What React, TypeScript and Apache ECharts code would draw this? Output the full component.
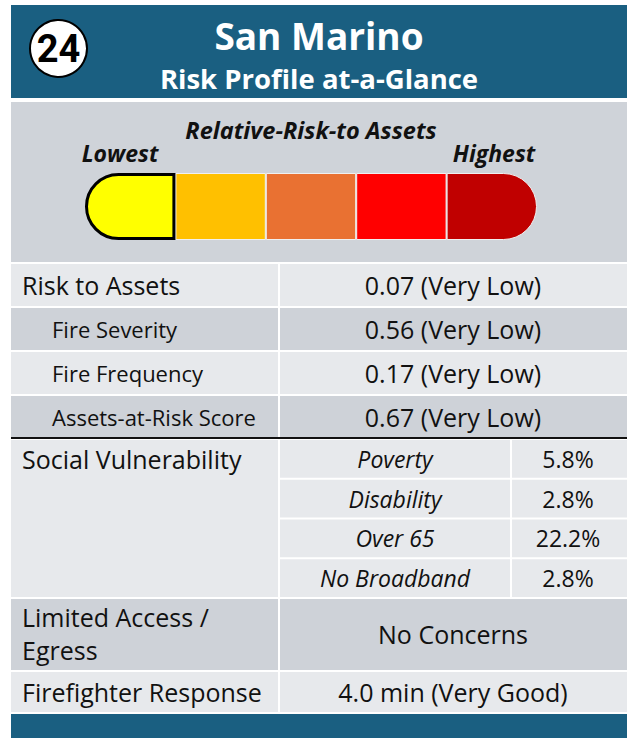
import React, { useEffect, useRef } from "react";
import * as echarts from "echarts";

// ---------- data ----------
const districtNumber = "24";
const titleText = "San Marino";
const subtitleText = "Risk Profile at-a-Glance";
const gaugeTitle = "Relative-Risk-to Assets";
const gaugeLow = "Lowest";
const gaugeHigh = "Highest";
const riskLevels = ["Very Low", "Low", "Moderate", "High", "Very High"];
const riskLevelColors = ["#FFFF00", "#FFC000", "#E97132", "#FF0000", "#C00000"];
const currentLevelIndex = 0;
const riskLabels = ["Risk to Assets", "Fire Severity", "Fire Frequency", "Assets-at-Risk Score"];
const riskValues = ["0.07 (Very Low)", "0.56 (Very Low)", "0.17 (Very Low)", "0.67 (Very Low)"];
const socialLabel = "Social Vulnerability";
const socialFactors = ["Poverty", "Disability", "Over 65", "No Broadband"];
const socialValues = ["5.8%", "2.8%", "22.2%", "2.8%"];
const accessLabelLines = ["Limited Access /", "Egress"];
const accessValue = "No Concerns";
const responseLabel = "Firefighter Response";
const responseValue = "4.0 min (Very Good)";

// ---------- layout / style ----------
const FONT = "Open Sans";
const TEAL = "#1A5F81";
const LIGHT = "#E7E9EC";
const DARK = "#CED2D8";
const X0 = 11;
const X1 = 627;
const COL = 279;
const SUBCOL = 511;

export default function App() {
  const ref = useRef<HTMLDivElement>(null);
  useEffect(() => {
    if (!ref.current) return;
    const chart = echarts.init(ref.current, undefined, { renderer: "svg" });
    const g: any[] = [];
    const rect = (x: number, y: number, w: number, h: number, fill: string) =>
      g.push({ type: "rect", shape: { x, y, width: w, height: h }, style: { fill }, z: 0 });
    const text = (
      t: string, x: number, y: number, size: number,
      opts: { align?: string; weight?: string; italic?: boolean; fill?: string; font?: string } = {}
    ) =>
      g.push({
        type: "text", x, y, z: 5,
        style: {
          text: t, fill: opts.fill || "#111",
          fontFamily: opts.font || FONT, fontSize: size,
          fontWeight: opts.weight || "normal",
          fontStyle: opts.italic ? "italic" : "normal",
          textAlign: opts.align || "left", textVerticalAlign: "middle",
        },
      });

    // header
    rect(X0, 5, X1 - X0, 93, TEAL);
    g.push({ type: "circle", shape: { cx: 58.5, cy: 48.5, r: 28.5 }, style: { fill: "#fff", stroke: "#000", lineWidth: 2 }, z: 3 });
    text(districtNumber, 58.5, 48.5, 38, { align: "center", weight: "bold", fill: "#000", font: "Roboto" });
    text(titleText, 319, 35, 37, { align: "center", weight: "bold", fill: "#fff" });
    text(subtitleText, 319, 78, 27.5, { align: "center", weight: "bold", fill: "#fff" });

    // gauge panel
    rect(X0, 102, X1 - X0, 160, "#CFD3D9");
    text(gaugeTitle, 311, 130, 23.5, { align: "center", weight: "bold", italic: true });
    text(gaugeLow, 120, 153, 23, { align: "center", weight: "bold", italic: true });
    text(gaugeHigh, 494, 153, 23, { align: "center", weight: "bold", italic: true });

    // risk rows
    const rTops = [264, 308, 352, 396];
    const rH = [42, 42, 42, 41];
    riskLabels.forEach((lab, i) => {
      const fill = i % 2 === 0 ? LIGHT : DARK;
      rect(X0, rTops[i], COL - 1 - X0, rH[i], fill);
      rect(COL + 1, rTops[i], X1 - COL - 1, rH[i], fill);
      const cy = rTops[i] + rH[i] / 2;
      text(lab, i === 0 ? 22 : 52, cy, i === 0 ? 25 : 22);
      text(riskValues[i], 453, cy, 25, { align: "center" });
    });
    rect(X0, 437, X1 - X0, 2, "#111");

    // social vulnerability
    const sTop = 440, sBot = 597;
    rect(X0, sTop, COL - 1 - X0, sBot - sTop, LIGHT);
    text(socialLabel, 22, 459, 25);
    const subH = (sBot - sTop - 3 * 2) / 4;
    socialFactors.forEach((f, i) => {
      const y = sTop + i * (subH + 2);
      rect(COL + 1, y, SUBCOL - 1 - COL - 1, subH, LIGHT);
      rect(SUBCOL + 1, y, X1 - SUBCOL - 1, subH, LIGHT);
      text(f, 395, y + subH / 2, 23, { align: "center", italic: true });
      text(socialValues[i], 568, y + subH / 2, 23, { align: "center" });
    });

    // access
    rect(X0, 599, COL - 1 - X0, 71, DARK);
    rect(COL + 1, 599, X1 - COL - 1, 71, DARK);
    text(accessLabelLines[0], 22, 617, 25);
    text(accessLabelLines[1], 22, 650, 25);
    text(accessValue, 453, 634, 25, { align: "center" });

    // response
    rect(X0, 672, COL - 1 - X0, 40, LIGHT);
    rect(COL + 1, 672, X1 - COL - 1, 40, LIGHT);
    text(responseLabel, 22, 692, 25);
    text(responseValue, 453, 692, 25, { align: "center" });

    // footer band
    rect(X0, 714, X1 - X0, 24, TEAL);

    const n = riskLevels.length;
    const series = riskLevels.map((lvl, i) => ({
      type: "bar",
      name: lvl,
      stack: "gauge",
      data: [1],
      barWidth: 67,
      z: i === currentLevelIndex ? 4 : 2,
      itemStyle: {
        color: riskLevelColors[i],
        borderColor: i === currentLevelIndex ? "#000" : "#F0F0F0",
        borderWidth: i === currentLevelIndex ? 3 : 1,
        borderRadius: i === 0 ? [33, 0, 0, 33] : i === n - 1 ? [0, 33, 33, 0] : 0,
      },
    }));

    chart.setOption({
      animation: false,
      grid: { left: 85, top: 173, width: 452, height: 67, containLabel: false },
      xAxis: { type: "value", min: 0, max: n, show: false },
      yAxis: { type: "category", data: ["Relative risk"], show: false },
      series,
      graphic: g,
    });
    return () => chart.dispose();
  }, []);
  return (
    <div
      ref={ref}
      style={{ position: "fixed", left: 0, top: 0, width: 627, height: 738, background: "#fff" }}
    />
  );
}
